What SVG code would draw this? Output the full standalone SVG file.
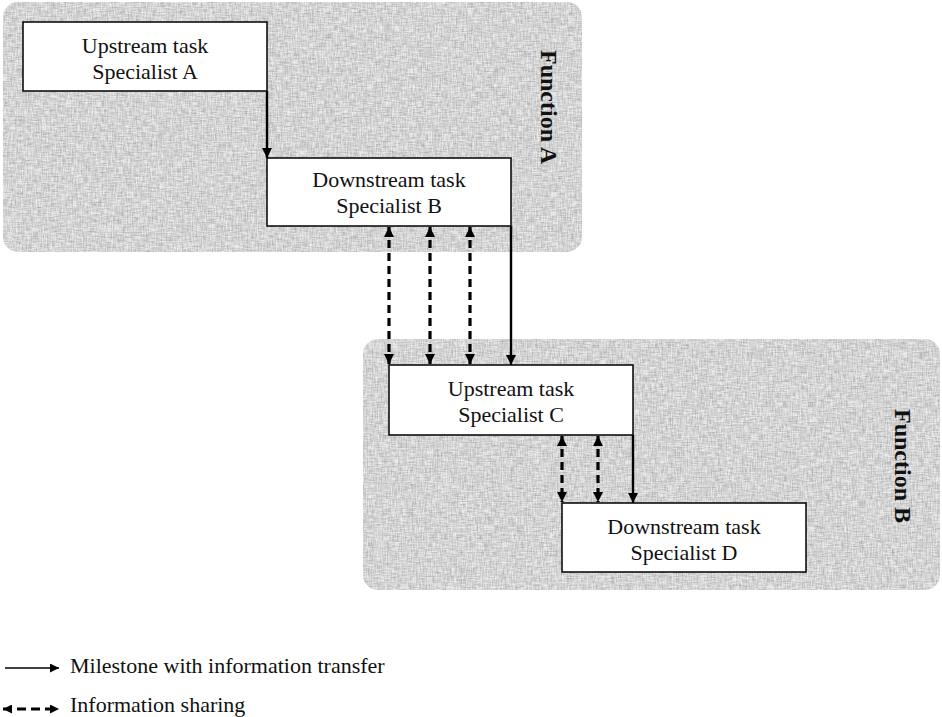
<svg xmlns="http://www.w3.org/2000/svg" width="942" height="717" viewBox="0 0 942 717">
  <defs>
    <style>
      .grain { fill: #ebebeb; filter: url(#linen); }
      .box { fill: #ffffff; stroke: #000000; stroke-width: 1.5; }
      .label { font-family: "Liberation Serif", "Times New Roman", serif; font-size: 22px; fill: #111111; text-anchor: middle; }
      .func { font-family: "Liberation Serif", "Times New Roman", serif; font-size: 24px; font-weight: bold; fill: #111111; text-anchor: middle; }
      .legend { font-family: "Liberation Serif", "Times New Roman", serif; font-size: 22px; fill: #111111; }
      .solid { fill: none; stroke: #000000; stroke-width: 2.4; }
      .dash { fill: none; stroke: #000000; stroke-width: 3.2; stroke-dasharray: 8 5; }
    </style>
    <marker id="head" viewBox="0 0 10 10" refX="10" refY="5" markerWidth="11" markerHeight="10" markerUnits="userSpaceOnUse" orient="auto-start-reverse">
      <path d="M0,0 L10,5 L0,10 z" fill="#000000"/>
    </marker>
    <marker id="headS" viewBox="0 0 10 10" refX="10" refY="5" markerWidth="10" markerHeight="9" markerUnits="userSpaceOnUse" orient="auto-start-reverse">
      <path d="M0,0 L10,5 L0,10 z" fill="#000000"/>
    </marker>
    <!-- woven texture for the function panels -->
    <filter id="linen" x="0" y="0" width="100%" height="100%" color-interpolation-filters="sRGB">
      <feTurbulence type="fractalNoise" baseFrequency="0.8 0.12" numOctaves="2" seed="3" result="n1"/>
      <feTurbulence type="fractalNoise" baseFrequency="0.12 0.8" numOctaves="2" seed="7" result="n2"/>
      <feComposite in="n1" in2="n2" operator="arithmetic" k2="0.5" k3="0.5" result="n"/>
      <feColorMatrix in="n" type="matrix" values="0.6 0 0 0 0.6  0.6 0 0 0 0.6  0.6 0 0 0 0.6  0 0 0 0 1" result="shade"/>
      <feComposite in="shade" in2="SourceGraphic" operator="in" result="tex"/>
      <feBlend in="tex" in2="SourceGraphic" mode="multiply"/>
    </filter>
  </defs>

  <!-- Function A panel -->
  <g id="function-a">
    <rect class="grain" x="3" y="2" width="579" height="250" rx="15"/>
    <text class="func" transform="translate(541,107) rotate(90)">Function A</text>
  </g>

  <!-- Function B panel -->
  <g id="function-b">
    <rect class="grain" x="363" y="339" width="577" height="251" rx="15"/>
    <text class="func" transform="translate(895,466) rotate(90)">Function B</text>
  </g>

  <g id="specialist-a">
    <rect class="box" x="23" y="22" width="244" height="69"/>
    <text class="label" x="145" y="53">Upstream task</text>
    <text class="label" x="145" y="79">Specialist A</text>
  </g>

  <g id="specialist-b">
    <rect class="box" x="267" y="158" width="244" height="68"/>
    <text class="label" x="389" y="187">Downstream task</text>
    <text class="label" x="389" y="213">Specialist B</text>
  </g>

  <g id="specialist-c">
    <rect class="box" x="389" y="365" width="244" height="70"/>
    <text class="label" x="511" y="396">Upstream task</text>
    <text class="label" x="511" y="422">Specialist C</text>
  </g>

  <g id="specialist-d">
    <rect class="box" x="562" y="503" width="244" height="69"/>
    <text class="label" x="684" y="534">Downstream task</text>
    <text class="label" x="684" y="560">Specialist D</text>
  </g>

  <g id="connectors">
    <!-- milestones with information transfer -->
    <line class="solid" x1="267" y1="91" x2="267" y2="158" marker-end="url(#head)"/>
    <line class="solid" x1="511" y1="226" x2="511" y2="365" marker-end="url(#head)"/>
    <line class="solid" x1="633" y1="435" x2="633" y2="503" marker-end="url(#head)"/>
    <!-- information sharing between B and C -->
    <line class="dash" x1="389" y1="227" x2="389" y2="364" marker-start="url(#head)" marker-end="url(#head)"/>
    <line class="dash" x1="430" y1="227" x2="430" y2="364" marker-start="url(#head)" marker-end="url(#head)"/>
    <line class="dash" x1="470" y1="227" x2="470" y2="364" marker-start="url(#head)" marker-end="url(#head)"/>
    <!-- information sharing between C and D -->
    <line class="dash" x1="562" y1="436" x2="562" y2="502" marker-start="url(#head)" marker-end="url(#head)"/>
    <line class="dash" x1="598" y1="436" x2="598" y2="502" marker-start="url(#head)" marker-end="url(#head)"/>
  </g>

  <g id="legend">
    <line x1="5" y1="668" x2="59" y2="668" stroke="#000" stroke-width="1.5" marker-end="url(#headS)"/>
    <text class="legend" x="70" y="673">Milestone with information transfer</text>
    <line x1="3" y1="709" x2="59" y2="709" stroke="#000" stroke-width="3.2" stroke-dasharray="9 5" marker-start="url(#headS)" marker-end="url(#headS)"/>
    <text class="legend" x="70" y="712">Information sharing</text>
  </g>
</svg>
